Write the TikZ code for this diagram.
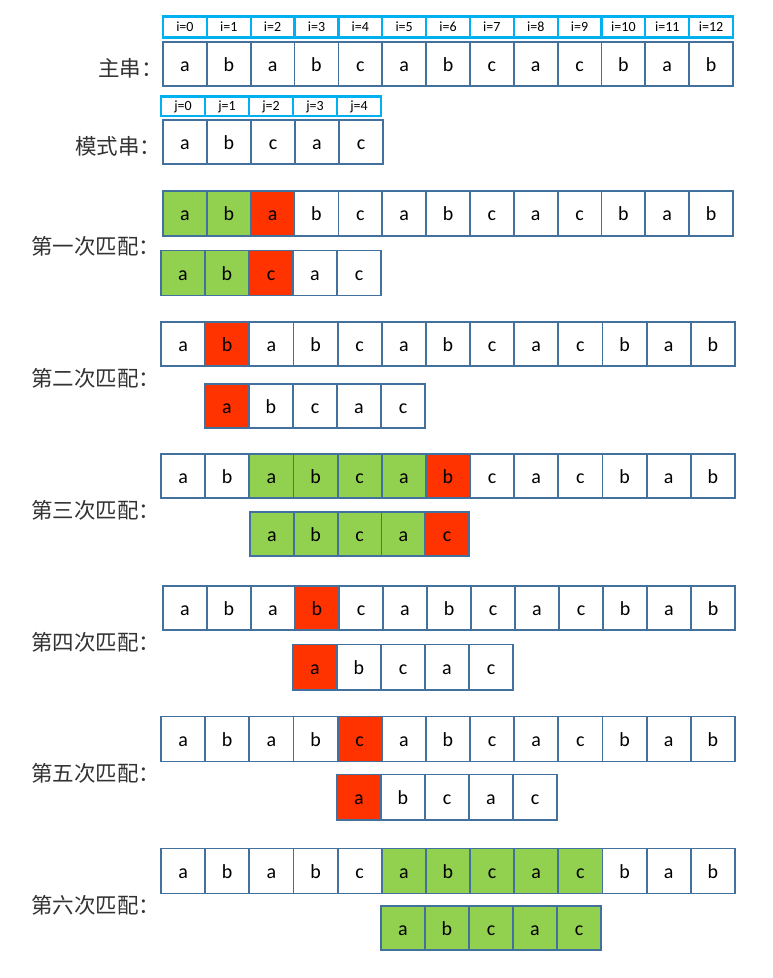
\documentclass[tikz,border=0pt]{standalone}
\usepackage{fontspec}
\setmainfont{Carlito}
\newfontfamily\cjk{Noto Sans CJK SC}
\definecolor{cellborder}{HTML}{41719C}
\definecolor{idxborder}{HTML}{00B0F0}
\definecolor{okgreen}{HTML}{92D050}
\definecolor{badred}{HTML}{FF3300}
\tikzset{
  cellbox/.style={draw=cellborder, line width=1.8pt, inner sep=0pt, outer sep=0pt, anchor=north west,
    font=\fontsize{20}{20}\selectfont, text=black, text height=15pt, text depth=1pt},
  idxbox/.style={draw=idxborder, line width=2.2pt, inner sep=0pt, outer sep=0pt, anchor=north west,
    font=\fontsize{14}{14}\selectfont, text=black, fill=white, text height=9pt, text depth=1pt},
  rowlabel/.style={anchor=west, inner sep=0pt, font=\cjk\fontsize{21.5}{21.5}\selectfont, text=black!80}
}
% #1 prefix, #2 x, #3 y, #4 cell width, #5 cell height, #6 style, #7 list
\newcommand\cellrow[7]{%
  \foreach \ch/\fc [count=\k] in {#7} {
    \node[#6, fill=\fc, minimum width=#4pt, minimum height=#5pt] (#1-\k) at ({#2+(\k-1)*#4}, #3) {\ch};
  }%
}
\begin{document}
\begin{tikzpicture}[x=1pt,y=-1pt]
\useasboundingbox (0,0) rectangle (773,978);
% index rows
\cellrow{ii}{163}{16.5}{43.85}{21}{idxbox}{i=0/white,i=1/white,i=2/white,i=3/white,i=4/white,i=5/white,i=6/white,i=7/white,i=8/white,i=9/white,i=10/white,i=11/white,i=12/white}
\cellrow{m0}{163}{42}{43.85}{44}{cellbox}{a/white,b/white,a/white,b/white,c/white,a/white,b/white,c/white,a/white,c/white,b/white,a/white,b/white}
\cellrow{jj}{161}{96.5}{44}{19.5}{idxbox}{j=0/white,j=1/white,j=2/white,j=3/white,j=4/white}
\cellrow{p0}{163}{120}{44}{44}{cellbox}{a/white,b/white,c/white,a/white,c/white}
\node[rowlabel] (l0) at (98,68) {主串：};
\node[rowlabel] (lp) at (75,146) {模式串：};
% match 1
\cellrow{m1}{163}{191}{43.85}{45}{cellbox}{a/okgreen,b/okgreen,a/badred,b/white,c/white,a/white,b/white,c/white,a/white,c/white,b/white,a/white,b/white}
\cellrow{p1}{161}{250.5}{44}{45}{cellbox}{a/okgreen,b/okgreen,c/badred,a/white,c/white}
\node[rowlabel] (l1) at (31,246) {第一次匹配：};
% match 2
\cellrow{m2}{161}{322}{44.15}{44}{cellbox}{a/white,b/badred,a/white,b/white,c/white,a/white,b/white,c/white,a/white,c/white,b/white,a/white,b/white}
\cellrow{p2}{205}{384}{44}{44}{cellbox}{a/badred,b/white,c/white,a/white,c/white}
\node[rowlabel] (l2) at (31,378) {第二次匹配：};
% match 3
\cellrow{m3}{161}{454}{44.15}{44}{cellbox}{a/white,b/white,a/okgreen,b/okgreen,c/okgreen,a/okgreen,b/badred,c/white,a/white,c/white,b/white,a/white,b/white}
\cellrow{p3}{250}{512}{43.8}{44}{cellbox}{a/okgreen,b/okgreen,c/okgreen,a/okgreen,c/badred}
\node[rowlabel] (l3) at (31,510) {第三次匹配：};
% match 4
\cellrow{m4}{163}{586}{44}{44}{cellbox}{a/white,b/white,a/white,b/badred,c/white,a/white,b/white,c/white,a/white,c/white,b/white,a/white,b/white}
\cellrow{p4}{293}{644.5}{44}{45.5}{cellbox}{a/badred,b/white,c/white,a/white,c/white}
\node[rowlabel] (l4) at (31,642) {第四次匹配：};
% match 5
\cellrow{m5}{161}{716.5}{44.15}{45}{cellbox}{a/white,b/white,a/white,b/white,c/badred,a/white,b/white,c/white,a/white,c/white,b/white,a/white,b/white}
\cellrow{p5}{337}{774.5}{44}{45.5}{cellbox}{a/badred,b/white,c/white,a/white,c/white}
\node[rowlabel] (l5) at (31,773) {第五次匹配：};
% match 6
\cellrow{m6}{161}{848.5}{44.15}{45}{cellbox}{a/white,b/white,a/white,b/white,c/white,a/okgreen,b/okgreen,c/okgreen,a/okgreen,c/okgreen,b/white,a/white,b/white}
\cellrow{p6}{381}{906}{44}{44}{cellbox}{a/okgreen,b/okgreen,c/okgreen,a/okgreen,c/okgreen}
\node[rowlabel] (l6) at (31,905) {第六次匹配：};
\end{tikzpicture}
\end{document}
